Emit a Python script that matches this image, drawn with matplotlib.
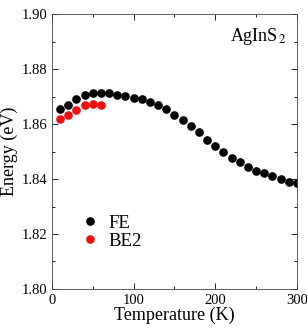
import numpy as np
import matplotlib
matplotlib.use('Agg')
import matplotlib.pyplot as plt
from matplotlib.ticker import MultipleLocator

# FE data
temp_fe = np.arange(10, 310, 10)
energy_fe = [1.8655, 1.8670, 1.8690, 1.8704, 1.8713, 1.8713, 1.8713, 1.8707,
             1.8702, 1.8696, 1.8690, 1.8682, 1.8670, 1.8655, 1.8634, 1.8614,
             1.8592, 1.8571, 1.8543, 1.8521, 1.8498, 1.8476, 1.8461, 1.8443,
             1.8431, 1.8421, 1.8412, 1.8400, 1.8390, 1.8386]
# BE2 data
temp_be2 = [10, 20, 30, 40, 50, 60]
energy_be2 = [1.8620, 1.8634, 1.8652, 1.8670, 1.8673, 1.8670]

plt.rcParams['font.family'] = ['Liberation Serif', 'DejaVu Serif']
plt.rcParams['mathtext.fontset'] = 'stix'

fig = plt.figure(figsize=(3.07, 3.28), dpi=100)
ax = fig.add_axes([0.169, 0.119, 0.798, 0.838])

ax.plot(temp_fe, energy_fe, 'o', color='black', ms=5.2, label='FE')
ax.plot(temp_be2, energy_be2, 'o', color='#ee1111', ms=5.2, label='BE2')

ax.set_xlim(0, 300)
ax.set_ylim(1.80, 1.90)
ax.xaxis.set_major_locator(MultipleLocator(100))
ax.xaxis.set_minor_locator(MultipleLocator(50))
ax.yaxis.set_major_locator(MultipleLocator(0.02))
ax.yaxis.set_minor_locator(MultipleLocator(0.01))
ax.tick_params(which='both', direction='in', top=True, right=True, labelsize=10.5, width=0.6)
ax.tick_params(which='major', length=4)
ax.tick_params(which='minor', length=2)
for s in ax.spines.values():
    s.set_linewidth(0.6)
    s.set_color('#444444')

ax.set_xlabel('Temperature (K)', fontsize=13, labelpad=0)
ax.set_ylabel('Energy (eV)', fontsize=13, labelpad=2)

ax.text(0.96, 0.92, r'AgInS$_{\,2}$', transform=ax.transAxes, ha='right', va='center', fontsize=13)

ax.legend(loc='lower left', bbox_to_anchor=(0.08, 0.115), frameon=False, fontsize=13.5,
          handletextpad=0.35, labelspacing=0.05, borderaxespad=0, handlelength=1.2)

fig.savefig('out.png', dpi=100)
